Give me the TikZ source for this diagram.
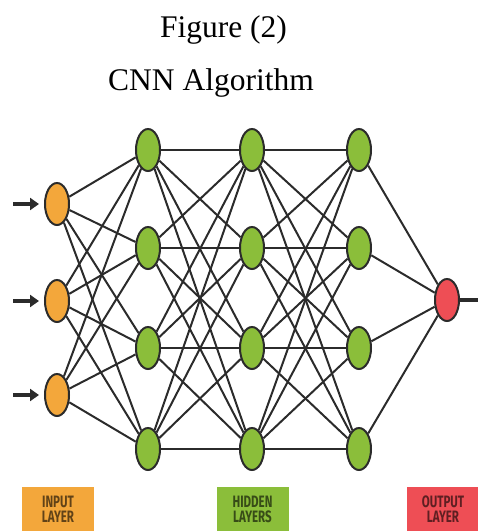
\documentclass[tikz,border=0pt]{standalone}
\usepackage{fontspec}
\setmainfont{Liberation Serif}
\newfontfamily\tagfont[FakeStretch=0.7]{Fira Sans}
\usetikzlibrary{shapes.geometric,arrows.meta}

\definecolor{edgegray}{HTML}{2B2B2B}
\definecolor{inorange}{HTML}{F3A73B}
\definecolor{hidgreen}{HTML}{8BBE3A}
\definecolor{outred}{HTML}{EE4E55}

\tikzset{
  neuron/.style={ellipse, draw=edgegray, line width=2pt, minimum width=24pt,
    minimum height=42pt, inner sep=0pt},
  link/.style={draw=edgegray, line width=2pt},
  feed/.style={draw=edgegray, line width=4pt, -{Triangle[length=9pt,width=12pt]}},
  tag/.style={minimum width=72pt, minimum height=44pt, anchor=north, align=center,
    font=\tagfont\bfseries\fontsize{16.5}{15.5}\selectfont, text=black, text opacity=0.6}
}

\begin{document}
\begin{tikzpicture}[x=1pt, y=-1pt]

\useasboundingbox (0,0) rectangle (478,531);

% titles
\node[anchor=base, font=\fontsize{31.5}{36}\selectfont] (fig) at (223.5,37) {Figure (2)};
\node[anchor=base, font=\fontsize{31.5}{36}\selectfont] (algo) at (211,90) {CNN Algorithm};

% input layer
\foreach \i/\y in {1/204,2/301,3/395}
  \node[neuron, fill=inorange] (in\i) at (57,\y) {};

% hidden layers
\foreach \i/\y in {1/150,2/248,3/348,4/449}{
  \node[neuron, fill=hidgreen] (ha\i) at (148,\y) {};
  \node[neuron, fill=hidgreen] (hb\i) at (252,\y) {};
  \node[neuron, fill=hidgreen] (hc\i) at (359,\y) {};
}

% output layer
\node[neuron, fill=outred] (out) at (447,300) {};

% connections
\foreach \i in {1,2,3}
  \foreach \j in {1,2,3,4}
    \draw[link] (in\i) -- (ha\j);

\foreach \i in {1,2,3,4}{
  \foreach \j in {1,2,3,4}{
    \draw[link] (ha\i) -- (hb\j);
    \draw[link] (hb\i) -- (hc\j);
  }
  \draw[link] (hc\i) -- (out);
}

% inputs and output
\foreach \i/\y in {1/204,2/301,3/395}{
  \coordinate (src\i) at (13,\y);
  \draw[feed] (src\i) -- ([xshift=-5pt]in\i.west);
}
\coordinate (sink) at (478,300);
\draw[edgegray, line width=4pt] (out.east) -- (sink);

% layer tags
\node[tag, fill=inorange] (tagin) at (58,487) {INPUT\\LAYER};
\node[tag, fill=hidgreen] (taghid) at (252.5,487) {HIDDEN\\LAYERS};
\node[tag, fill=outred] (tagout) at (443,487) {OUTPUT\\LAYER};

\end{tikzpicture}
\end{document}
